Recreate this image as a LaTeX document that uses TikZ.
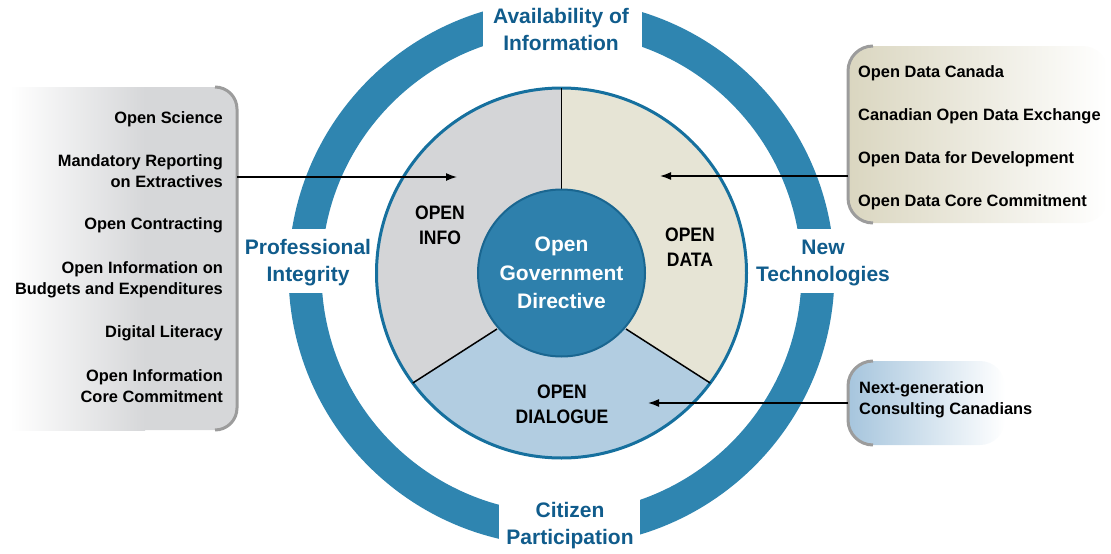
\documentclass[tikz,border=0pt]{standalone}
\usepackage{fontspec}
\setmainfont{Liberation Sans}
\newfontfamily\condf{Liberation Sans}[FakeStretch=0.9]
\usetikzlibrary{arrows.meta}
\definecolor{ringblue}{HTML}{2F85B0}
\definecolor{titleblue}{HTML}{105C8C}
\definecolor{pieblue}{HTML}{16709E}
\definecolor{coreblue}{HTML}{2E80AC}
\definecolor{coreedge}{HTML}{1A6690}
\definecolor{infogray}{HTML}{D4D5D7}
\definecolor{databeige}{HTML}{E6E4D5}
\definecolor{dialblue}{HTML}{B2CDE1}
\definecolor{boxgray}{HTML}{D6D7D9}
\definecolor{boxbeige}{HTML}{DAD6C0}
\definecolor{boxblue}{HTML}{A6C5DD}
\definecolor{bordergray}{HTML}{9C9C9C}
\begin{document}
\begin{tikzpicture}[x=1pt,y=-1pt,
  listtext/.style={font=\fontsize{16.4}{21.5}\selectfont\bfseries, text=black, inner sep=0pt},
  bluelabel/.style={font=\fontsize{21}{26.5}\selectfont\bfseries, text=titleblue, inner sep=0pt, align=center, anchor=base},
  sectorlabel/.style={font=\condf\fontsize{19.5}{24.5}\selectfont\bfseries, text=black, inner sep=0pt, align=center, anchor=base},
  corelabel/.style={circle, fill=coreblue, draw=coreedge, line width=2pt, minimum size=167pt, inner sep=0pt,
     align=center, text=white, font=\fontsize{21}{28.5}\selectfont\bfseries},
  arrowline/.style={line width=1.5pt, -{Latex[length=11pt,width=8pt]}},
  boxborder/.style={draw=bordergray, line width=3pt},
  divider/.style={line width=1.5pt, black}]
\useasboundingbox (0,0) rectangle (1111,554);

% ---- side boxes ----
\fill[boxgray, rounded corners=22pt] (120,87) rectangle (237,430);
\shade[left color=white, right color=boxgray] (10,87) rectangle (145,430);
\draw[boxborder, rounded corners=22pt] (215,87) -- (237,87) -- (237,430) -- (215,430);

\shade[left color=boxbeige, right color=white, rounded corners=25pt] (848,46) rectangle (1108,223);
\draw[boxborder, rounded corners=25pt] (873,46) -- (848,46) -- (848,223) -- (873,223);

\shade[left color=boxblue, right color=white, rounded corners=25pt] (848,361) rectangle (1005,445);
\draw[boxborder, rounded corners=25pt] (873,361) -- (848,361) -- (848,445) -- (873,445);

% ---- outer ring ----
\coordinate (C) at (561.5,273);
\fill[ringblue, even odd rule] (C) circle[radius=273] (C) circle[radius=240];
\fill[white] (483,0) rectangle (642,60);
\fill[white] (499,480) rectangle (640,554);
\fill[white] (270,229) rectangle (350,293);
\fill[white] (772,229) rectangle (852,293);

% ---- pie ----
\coordinate (pT) at (561.5,88);
\coordinate (pL) at (412.8,383);
\coordinate (pR) at (710.2,383);
\coordinate (cL) at (497,329);
\coordinate (cR) at (626,329);
\fill[infogray] (C) -- (pT) arc[start angle=270, end angle=143.5, radius=185] -- (cL) -- cycle;
\fill[databeige] (C) -- (pT) arc[start angle=-90, end angle=36.5, radius=185] -- (cR) -- cycle;
\fill[dialblue] (cL) -- (pL) arc[start angle=143.5, end angle=36.5, radius=185] -- (cR) -- (C) -- cycle;
\draw[pieblue, line width=3pt] (C) circle[radius=185];
\draw[divider] (pT) -- (C);
\draw[divider] (pL) -- (cL);
\draw[divider] (pR) -- (cR);
\node[corelabel] (core) at (C) {\raisebox{-2.5pt}{Open}\\\raisebox{-2.5pt}{Government}\\\raisebox{-2.5pt}{Directive}};

% ---- sector labels (anchor = baseline of last line) ----
\node[sectorlabel] (info) at (440,244) {OPEN\\INFO};
\node[sectorlabel] (data) at (690,266) {OPEN\\DATA};
\node[sectorlabel] (dial) at (562,423) {OPEN\\DIALOGUE};

% ---- ring labels ----
\node[bluelabel] (avail) at (561,50) {Availability of\\Information};
\node[bluelabel] (citizen) at (570,544) {Citizen\\Participation};
\node[bluelabel] (prof) at (308,281) {Professional\\Integrity};
\node[bluelabel] (newtech) at (823,281) {New\\Technologies};

% ---- left list ----
\node[listtext, anchor=base east, align=right] (l1) at (223,123) {Open Science};
\node[listtext, anchor=base east, align=right] (l2) at (223,187.5) {Mandatory Reporting\\on Extractives};
\node[listtext, anchor=base east, align=right] (l3) at (223,229) {Open Contracting};
\node[listtext, anchor=base east, align=right] (l4) at (223,294.5) {Open Information on\\Budgets and Expenditures};
\node[listtext, anchor=base east, align=right] (l5) at (223,337) {Digital Literacy};
\node[listtext, anchor=base east, align=right] (l6) at (223,402.5) {Open Information\\Core Commitment};

% ---- right lists ----
\node[listtext, anchor=base west] (r1) at (858,77) {Open Data Canada};
\node[listtext, anchor=base west] (r2) at (858,120) {Canadian Open Data Exchange};
\node[listtext, anchor=base west] (r3) at (858,163) {Open Data for Development};
\node[listtext, anchor=base west] (r4) at (858,206) {Open Data Core Commitment};
\node[listtext, anchor=base west, align=left, font=\fontsize{16.4}{21}\selectfont\bfseries] (n1) at (859,414) {Next-generation\\Consulting Canadians};

% ---- arrows ----
\coordinate (lbox) at (237,177);
\coordinate (infoin) at (457,177);
\coordinate (rbox) at (848,176);
\coordinate (datain) at (660,176);
\coordinate (nbox) at (848,403);
\coordinate (dialin) at (648,403);
\draw[arrowline] (lbox) -- (infoin);
\draw[arrowline] (rbox) -- (datain);
\draw[arrowline] (nbox) -- (dialin);
\end{tikzpicture}
\end{document}
